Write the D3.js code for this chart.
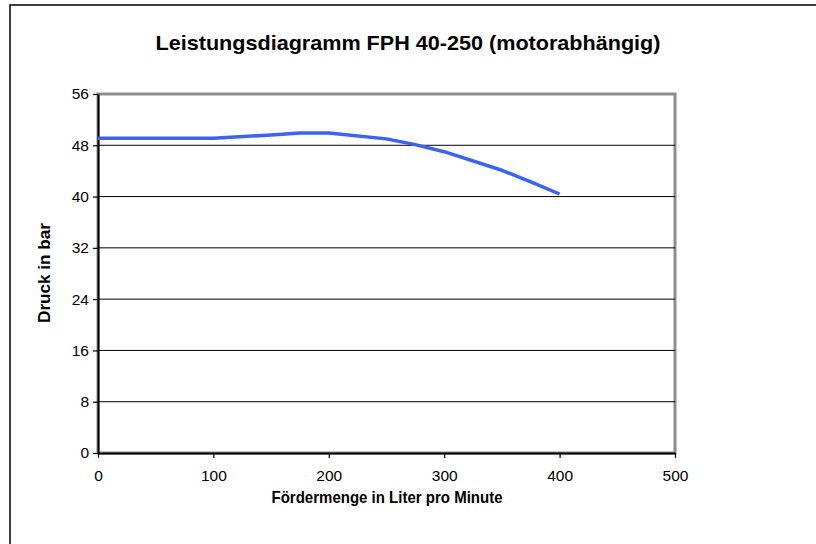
<!DOCTYPE html>
<html><head><meta charset="utf-8">
<script src="https://cdn.jsdelivr.net/npm/d3@7"></script>
<style>body{margin:0;background:#fff}svg{display:block;font-family:"Liberation Sans",Arial,sans-serif}</style>
</head><body>
<script>
const flow = [0, 100, 150, 175, 200, 250, 275, 300, 350, 375, 400];
const pressure = [49.1, 49.1, 49.6, 49.9, 49.9, 49.0, 48.1, 47.0, 44.1, 42.3, 40.4];
const xTicks = [0, 100, 200, 300, 400, 500];
const yTicks = [0, 8, 16, 24, 32, 40, 48, 56];
const title = "Leistungsdiagramm FPH 40-250 (motorabhängig)";
const xTitle = "Fördermenge in Liter pro Minute";
const yTitle = "Druck in bar";

const W = 816, H = 544;
const svg = d3.select("body").append("svg").attr("width", W).attr("height", H);
// outer frame
svg.append("path").attr("d", `M10,${H} V5 H${W}`).attr("fill", "none").attr("stroke", "#000").attr("stroke-width", 1.5);

const x = d3.scaleLinear().domain([0, 500]).range([98, 675]);
const y = d3.scaleLinear().domain([0, 56]).range([453, 94]);

svg.append("text").attr("x", 408).attr("y", 50).attr("text-anchor", "middle")
  .attr("font-size", 21).attr("font-weight", "bold")
  .attr("textLength", 505).attr("lengthAdjust", "spacingAndGlyphs").text(title);

// plot area border (gray)
svg.append("rect").attr("x", x(0)).attr("y", y(56)).attr("width", x(500) - x(0)).attr("height", y(0) - y(56))
  .attr("fill", "none").attr("stroke", "#8c8c8c").attr("stroke-width", 3);

// gridlines
svg.append("g").selectAll("line").data(yTicks.filter(d => d > 0 && d < 56)).join("line")
  .attr("x1", x(0)).attr("x2", x(500)).attr("y1", d => y(d)).attr("y2", d => y(d))
  .attr("stroke", "#000").attr("stroke-width", 1);

const ya = svg.append("g").attr("transform", `translate(${x(0)},0)`)
  .call(d3.axisLeft(y).tickValues(yTicks).tickSize(5).tickPadding(4).tickSizeOuter(0));
const xa = svg.append("g").attr("transform", `translate(0,${y(0)})`)
  .call(d3.axisBottom(x).tickValues(xTicks).tickSize(5).tickPadding(12).tickSizeOuter(0));
[ya, xa].forEach(a => {
  a.attr("font-size", 15.5).attr("font-family", "Liberation Sans, Arial, sans-serif");
  a.select(".domain").attr("stroke", "#000").attr("stroke-width", 2);
  a.selectAll(".tick line").attr("stroke", "#000").attr("stroke-width", 1.2);
  a.selectAll(".tick text").attr("fill", "#000");
});

svg.append("path").datum(flow.map((f, i) => [f, pressure[i]]))
  .attr("fill", "none").attr("stroke", "#3a62f5").attr("stroke-width", 3.5)
  .attr("stroke-linejoin", "round")
  .attr("d", d3.line().x(d => x(d[0])).y(d => y(d[1])));

svg.append("text").attr("x", 387).attr("y", 503).attr("text-anchor", "middle")
  .attr("font-size", 16.5).attr("font-weight", "bold")
  .attr("textLength", 231).attr("lengthAdjust", "spacingAndGlyphs").text(xTitle);
svg.append("text").attr("transform", "translate(50,273) rotate(-90)").attr("text-anchor", "middle")
  .attr("font-size", 16.5).attr("font-weight", "bold")
  .attr("textLength", 100).attr("lengthAdjust", "spacingAndGlyphs").text(yTitle);
</script>
</body></html>
